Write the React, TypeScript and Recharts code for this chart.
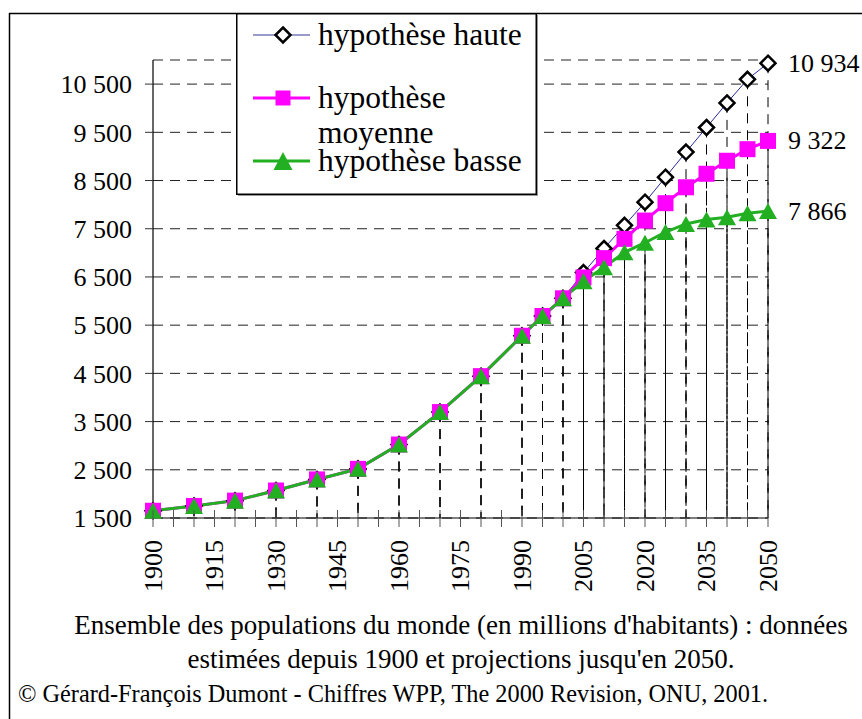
import { LineChart, Line, XAxis, YAxis, CartesianGrid, ReferenceLine, Legend } from 'recharts';

// population du monde, millions d'habitants
const years = [1900, 1910, 1920, 1930, 1940, 1950, 1960, 1970, 1980, 1990, 1995, 2000,
  2005, 2010, 2015, 2020, 2025, 2030, 2035, 2040, 2045, 2050];
const estimates = [1650, 1750, 1860, 2070, 2300, 2519, 3024, 3697, 4442, 5280, 5690, 6057];
const projHaute = [6590, 7090, 7570, 8050, 8570, 9090, 9600, 10110, 10600, 10934];
const projMoyenne = [6490, 6890, 7290, 7670, 8030, 8360, 8640, 8910, 9150, 9322];
const projBasse = [6410, 6700, 7010, 7210, 7430, 7600, 7690, 7740, 7820, 7866];

const xTicks = [1900, 1905, 1910, 1915, 1920, 1925, 1930, 1935, 1940, 1945, 1950, 1955, 1960,
  1965, 1970, 1975, 1980, 1985, 1990, 1995, 2000, 2005, 2010, 2015, 2020, 2025, 2030, 2035,
  2040, 2045, 2050];
const xLabels = [1900, 1915, 1930, 1945, 1960, 1975, 1990, 2005, 2020, 2035, 2050];
const yTicks = [1500, 2500, 3500, 4500, 5500, 6500, 7500, 8500, 9500, 10500];

const legendLines = [['hypothèse haute'], ['hypothèse', 'moyenne'], ['hypothèse basse']];
const captionLines = [
  "Ensemble des populations du monde (en millions d'habitants) : données",
  "estimées depuis 1900 et projections jusqu'en 2050.",
  '© Gérard-François Dumont - Chiffres WPP, The 2000 Revision, ONU, 2001.',
];

const haute = [...estimates, ...projHaute];
const moyenne = [...estimates, ...projMoyenne];
const basse = [...estimates, ...projBasse];

const rows = years.map((year, i) => ({ year, haute: haute[i], moyenne: moyenne[i], basse: basse[i] }));

const FONT = '"Liberation Serif", "Times New Roman", serif';
const HIGH = '#2a2a9c';
const MAGENTA = '#ff00ff';
const GREEN = '#22b022';
const last = years.length - 1;

const fmt = (v: number) => String(v).replace(/\B(?=(\d{3})+(?!\d))/g, ' ');

const EndLabel = ({ cx, cy, value }: any) => (
  <text x={cx + 20} y={cy} dominantBaseline="central" fontSize={26} fontFamily={FONT} fill="#000">
    {fmt(value)}
  </text>
);

const Diamond = (props: any) => {
  const { cx, cy, index } = props;
  const r = 7.5;
  return (
    <g>
      <polygon
        points={`${cx},${cy - r} ${cx + r},${cy} ${cx},${cy + r} ${cx - r},${cy}`}
        fill="#fff"
        stroke="#000"
        strokeWidth={2.5}
      />
      {index === last && <EndLabel {...props} />}
    </g>
  );
};

const Square = (props: any) => {
  const { cx, cy, index } = props;
  return (
    <g>
      <rect x={cx - 8} y={cy - 8} width={16} height={16} fill={MAGENTA} />
      {index === last && <EndLabel {...props} />}
    </g>
  );
};

const Triangle = (props: any) => {
  const { cx, cy, index } = props;
  return (
    <g>
      <polygon points={`${cx},${cy - 8} ${cx + 9},${cy + 8} ${cx - 9},${cy + 8}`} fill={GREEN} />
      {index === last && <EndLabel {...props} />}
    </g>
  );
};

const YearTick = ({ x, y, payload }: any) => (
  <g>
    <line x1={x} y1={y - 8} x2={x} y2={y + 9} stroke="#555" strokeWidth={1} />
    {xLabels.includes(payload.value) && (
      <text
        x={x}
        y={y + 22}
        transform={`rotate(-90, ${x}, ${y + 22})`}
        textAnchor="end"
        dominantBaseline="central"
        fontSize={26}
        fontFamily={FONT}
        fill="#000"
      >
        {payload.value}
      </text>
    )}
  </g>
);

const LegendBox = () => {
  const icons = [
    (cy: number) => (
      <g>
        <line x1={17} y1={cy} x2={74} y2={cy} stroke="#7a7ab8" strokeWidth={1.5} />
        <polygon points={`47,${cy - 7.5} 54.5,${cy} 47,${cy + 7.5} 39.5,${cy}`} fill="#fff" stroke="#000" strokeWidth={2.5} />
      </g>
    ),
    (cy: number) => (
      <g>
        <line x1={17} y1={cy} x2={74} y2={cy} stroke={MAGENTA} strokeWidth={3} />
        <rect x={39.5} y={cy - 7.5} width={15} height={15} fill={MAGENTA} />
      </g>
    ),
    (cy: number) => (
      <g>
        <line x1={17} y1={cy} x2={74} y2={cy} stroke={GREEN} strokeWidth={3} />
        <polygon points={`47,${cy - 9} 56.5,${cy + 9} 37.5,${cy + 9}`} fill={GREEN} />
      </g>
    ),
  ];
  const iconY = [22, 85, 148];
  const textY = [32, 95, 158];
  return (
    <svg width={301} height={182} style={{ display: 'block', overflow: 'visible' }}>
      <rect x={2} y={2} width={300} height={181} fill="#999" />
      <rect x={0.75} y={0.75} width={299.5} height={180.5} fill="#fff" stroke="#000" strokeWidth={1.5} />
      {legendLines.map((lines, i) => (
        <g key={i}>
          {icons[i](iconY[i])}
          <text x={82} y={textY[i]} fontSize={31.5} fontFamily={FONT} fill="#000">
            {lines.map((t, j) => (
              <tspan key={j} x={82} dy={j === 0 ? 0 : 35}>
                {t}
              </tspan>
            ))}
          </text>
        </g>
      ))}
    </svg>
  );
};

const series = [
  { key: 'haute', values: haute },
  { key: 'moyenne', values: moyenne },
  { key: 'basse', values: basse },
];

export default function App() {
  return (
    <div style={{ position: 'absolute', left: 0, top: 0, width: 862, height: 719, overflow: 'hidden', background: '#fff' }}>
      <svg width={862} height={719} style={{ position: 'absolute', left: 0, top: 0 }}>
        <line x1={9.5} y1={13} x2={9.5} y2={719} stroke="#000" strokeWidth={1.5} />
        <line x1={9} y1={13.5} x2={862} y2={13.5} stroke="#000" strokeWidth={1.5} />
        <text x={461} y={634} textAnchor="middle" fontSize={27} fontFamily={FONT} fill="#000">
          {captionLines[0]}
        </text>
        <text x={461} y={668} textAnchor="middle" fontSize={27} fontFamily={FONT} fill="#000">
          {captionLines[1]}
        </text>
        <text x={18} y={702} fontSize={24.3} fontFamily={FONT} fill="#000">
          {captionLines[2]}
        </text>
      </svg>
      <div style={{ position: 'absolute', left: 0, top: 0 }}>
        <LineChart width={862} height={719} data={rows} margin={{ top: 60, right: 94, left: 0, bottom: 101 }}>
          <CartesianGrid vertical={false} stroke="#222" strokeDasharray="10 7" />
          <XAxis
            dataKey="year"
            type="number"
            domain={[1900, 2050]}
            ticks={xTicks}
            interval={0}
            height={100}
            tickSize={0}
            tickMargin={0}
            tickLine={false}
            axisLine={{ stroke: '#000', strokeWidth: 1.2 }}
            tick={<YearTick />}
          />
          <YAxis
            type="number"
            domain={[1500, 11000]}
            ticks={yTicks}
            interval={0}
            width={153}
            tickSize={8}
            tickMargin={13}
            tickFormatter={fmt}
            tickLine={{ stroke: '#333' }}
            axisLine={{ stroke: '#000', strokeWidth: 1.2 }}
            tick={{ fill: '#000', fontSize: 26, fontFamily: FONT }}
          />
          {series.map((s) =>
            years.map((year, i) => (
              <ReferenceLine
                key={`${s.key}-${year}`}
                segment={[
                  { x: year, y: s.values[i] },
                  { x: year, y: 1500 },
                ]}
                stroke="#000"
                strokeWidth={1}
                strokeDasharray="10 7"
              />
            ))
          )}
          <Legend
            layout="horizontal"
            verticalAlign="middle"
            align="center"
            content={() => <LegendBox />}
            wrapperStyle={{ top: 13, left: 236, width: 301, height: 182 }}
          />
          <Line type="linear" dataKey="haute" stroke={HIGH} strokeWidth={1} dot={<Diamond />} isAnimationActive={false} />
          <Line type="linear" dataKey="moyenne" stroke={MAGENTA} strokeWidth={3} dot={<Square />} isAnimationActive={false} />
          <Line type="linear" dataKey="basse" stroke={GREEN} strokeWidth={3} dot={<Triangle />} isAnimationActive={false} />
        </LineChart>
      </div>
    </div>
  );
}
